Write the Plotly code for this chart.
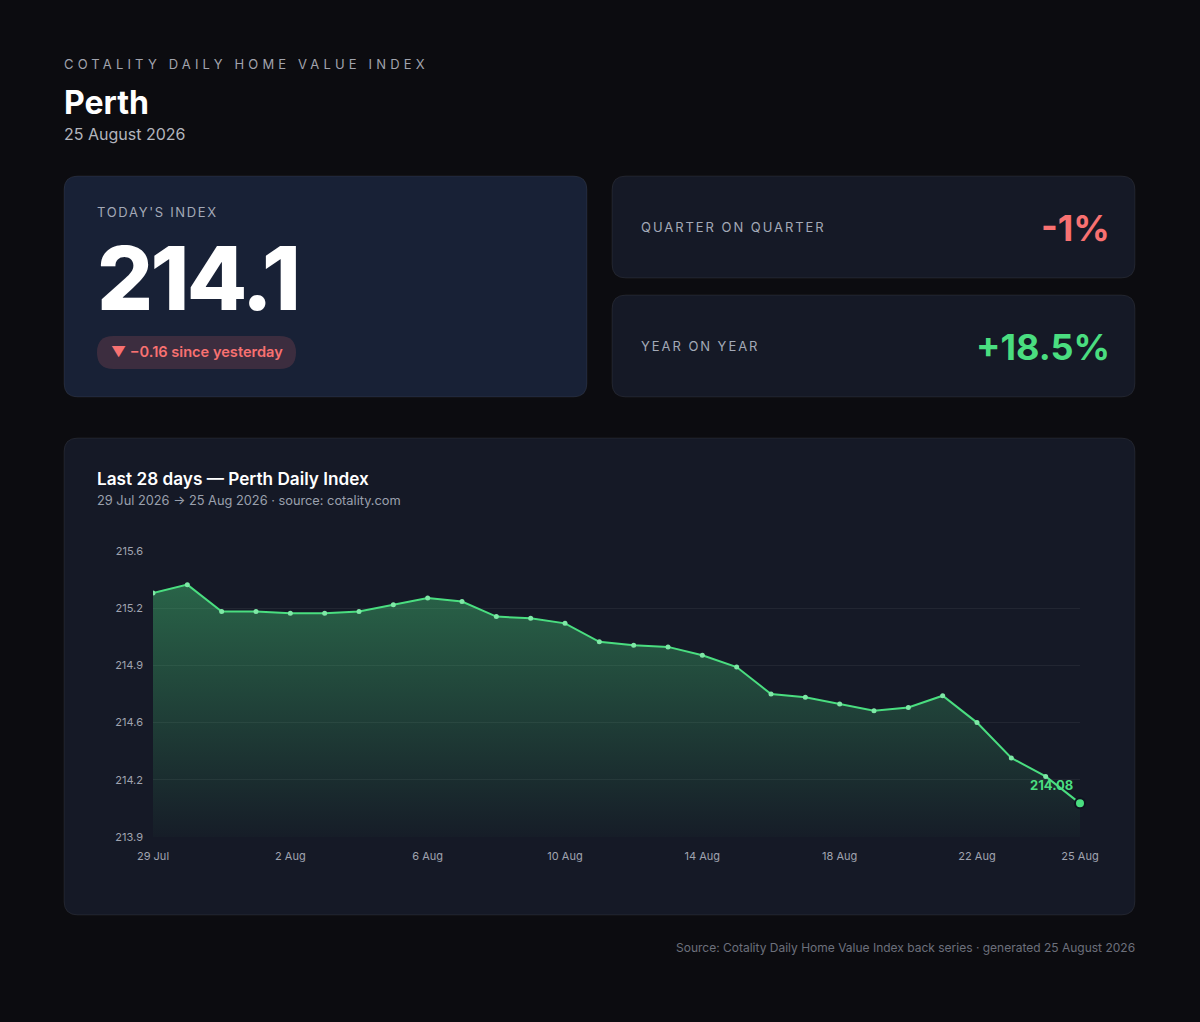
import numpy as np
import pandas as pd
import plotly.graph_objects as go

# ---------------- Données ----------------
dates = pd.date_range("2026-07-29", "2026-08-25", freq="D")
index_values = [
    215.33, 215.38, 215.22, 215.22, 215.21, 215.21, 215.22, 215.26,
    215.30, 215.28, 215.19, 215.18, 215.15, 215.04, 215.02, 215.01,
    214.96, 214.89, 214.73, 214.71, 214.67, 214.63, 214.65, 214.72,
    214.56, 214.35, 214.24, 214.08,
]
city = "Perth"
report_date = "25 August 2026"
qoq_label = "-1%"
yoy_label = "+18.5%"

# ---------------- Mise en page (pixels) ----------------
W, H = 1200, 1022
BG = "#0c0c10"
CARD = "#151926"
BORDER = "rgba(255,255,255,0.07)"
GREEN = "#4ade80"
RED = "#f87171"
FONT = "Inter"


def px(x):
    return x / W


def py(y):
    return 1 - y / H


def rounded(x0, y0, x1, y1, r):
    pts = [
        ("M", [(x0 + r, y0)]), ("L", [(x1 - r, y0)]), ("Q", [(x1, y0), (x1, y0 + r)]),
        ("L", [(x1, y1 - r)]), ("Q", [(x1, y1), (x1 - r, y1)]),
        ("L", [(x0 + r, y1)]), ("Q", [(x0, y1), (x0, y1 - r)]),
        ("L", [(x0, y0 + r)]), ("Q", [(x0, y0), (x0 + r, y0)]),
    ]
    s = ""
    for cmd, coords in pts:
        s += cmd + " " + " ".join(f"{px(a):.5f},{py(b):.5f}" for a, b in coords) + " "
    return s + "Z"


def card(x0, y0, x1, y1, fill, r=14, line=BORDER):
    return dict(type="path", xref="paper", yref="paper", path=rounded(x0, y0, x1, y1, r),
                fillcolor=fill, line=dict(color=line, width=1), layer="below")


def text(x, y, s, size, color, weight=400, anchor="left"):
    # la boîte d'annotation ajoute ~2px de marge : on compense
    shift = -2 if anchor == "left" else 2
    return dict(x=px(x), y=py(y), xref="paper", yref="paper", text=s, showarrow=False,
                xanchor=anchor, yanchor="middle", align=anchor, xshift=shift,
                font=dict(family=FONT, size=size, color=color, weight=weight))


y_lo = min(index_values) - 0.2
y_hi = max(index_values) + 0.2
y_ticks = np.linspace(y_lo, y_hi, 6)
x_ticks = list(dates[::4]) + [dates[-1]]
change = index_values[-1] - index_values[-2]

fig = go.Figure()

fig.add_trace(go.Scatter(
    x=dates, y=index_values, mode="lines+markers",
    line=dict(color=GREEN, width=2),
    marker=dict(size=5, color="#7ee8a6"),
    fill="tozeroy",
    fillgradient=dict(type="vertical", start=y_lo, stop=max(index_values),
                      colorscale=[[0, "rgba(74,222,128,0.02)"], [1, "rgba(74,222,128,0.38)"]]),
    hoverinfo="x+y", showlegend=False,
))
fig.add_trace(go.Scatter(
    x=[dates[-1]], y=[index_values[-1]], mode="markers",
    marker=dict(size=10, color=GREEN, line=dict(color="#0f1420", width=2)),
    showlegend=False, hoverinfo="skip", cliponaxis=False,
))

shapes = [
    card(64, 176, 587, 397, "#182136"),
    card(612, 176, 1135, 278, CARD),
    card(612, 295, 1135, 397, CARD),
    card(64, 438, 1135, 915, CARD),
    card(97, 336, 296, 369, "rgba(248,113,113,0.16)", r=16.5, line="rgba(0,0,0,0)"),
]

annotations = [
    text(64, 64, "COTALITY DAILY HOME VALUE INDEX", 13, "#a1a3ad"),
    text(64, 102, city, 32, "#ffffff", 700),
    text(64, 134, report_date, 16, "#b3b5bd"),
    text(97, 212, "TODAY'S INDEX", 13, "#a3a9b7"),
    text(97, 278, f"{index_values[-1]:.1f}", 88, "#ffffff", 800),
    text(111, 352.5, f"▼ −{abs(change):.2f} since yesterday", 14.6, RED, 600),
    text(641, 227, "QUARTER ON QUARTER", 13, "#a3a9b7"),
    text(1110, 228, qoq_label, 36, RED, 700, "right"),
    text(641, 346, "YEAR ON YEAR", 13, "#a3a9b7"),
    text(1110, 347, yoy_label, 36, GREEN, 700, "right"),
    text(97, 478, f"Last 28 days — {city} Daily Index", 17.2, "#ffffff", 600),
    text(97, 500, f"{dates[0]:%-d %b %Y} → {dates[-1]:%-d %b %Y} · source: cotality.com", 12.8, "#9aa0ad"),
    text(1135, 947, f"Source: Cotality Daily Home Value Index back series · generated {report_date}",
         12, "#6c707c", 400, "right"),
    dict(x=dates[-1], y=index_values[-1], xref="x", yref="y", text=f"{index_values[-1]:.2f}",
         showarrow=False, xanchor="right", yanchor="middle", xshift=-5, yshift=18,
         font=dict(family=FONT, size=13, color=GREEN, weight=700)),
]

fig.update_layout(
    width=W, height=H, margin=dict(l=0, r=0, t=0, b=0),
    paper_bgcolor=BG, plot_bgcolor="rgba(0,0,0,0)",
    font=dict(family=FONT, color="#a0a4b0", size=11),
    shapes=shapes, annotations=annotations, showlegend=False,
    xaxis=dict(domain=[px(153), px(1080)], range=[dates[0], dates[-1]], automargin=False,
               tickvals=x_ticks, tickformat="%-d %b", showgrid=False, zeroline=False,
               showline=False, ticks="", ticklabelstandoff=11,
               tickfont=dict(size=11, color="#a0a4b0")),
    yaxis=dict(domain=[py(837), py(551)], range=[y_lo, y_hi], tickvals=y_ticks, automargin=False,
               ticktext=[f"{v:.1f}" for v in y_ticks], showgrid=True,
               gridcolor="rgba(255,255,255,0.06)", zeroline=False, showline=False,
               ticks="", ticklabelstandoff=9, tickfont=dict(size=11, color="#a0a4b0")),
)

# Espacement des lettres pour les petits titres en capitales
post = """
document.body.style.margin = '0';
document.body.style.background = '#0c0c10';
var gd = document.getElementById('{plot_id}');
var spacing = {
  'COTALITY DAILY HOME VALUE INDEX': '0.32em',
  "TODAY'S INDEX": '0.13em',
  'QUARTER ON QUARTER': '0.15em',
  'YEAR ON YEAR': '0.15em',
  '214.1': '-0.03em'
};
gd.querySelectorAll('text.annotation-text').forEach(function (t) {
  var s = spacing[t.textContent];
  if (s) { t.style.letterSpacing = s; }
});
"""

fig.write_html("out.html", post_script=post, config={"displayModeBar": False})
